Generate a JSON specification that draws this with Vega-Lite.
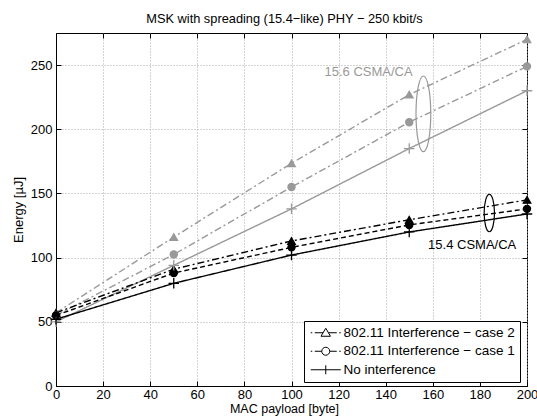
{
  "$schema": "https://vega.github.io/schema/vega-lite/v6.json",
  "width": 471,
  "height": 353,
  "autosize": {"type": "none"},
  "padding": {"left": 56, "top": 33, "right": 10, "bottom": 31},
  "background": "white",
  "title": {"text": "MSK with spreading (15.4−like) PHY − 250 kbit/s", "fontSize": 12.8, "fontWeight": "normal", "font": "Liberation Sans", "color": "black", "offset": 7, "dx": -7},
  "config": {
    "font": "Liberation Sans",
    "view": {"stroke": "black", "strokeWidth": 1},
    "axis": {"domainColor": "black", "tickColor": "black", "labelColor": "black", "labelFontSize": 13, "titleFontSize": 13, "titleFontWeight": "normal", "titleColor": "black", "gridColor": "#a8a8a8", "gridDash": [1, 2], "gridOpacity": 1, "labelFont": "Liberation Sans", "titleFont": "Liberation Sans"},
    "legend": {"labelFont": "Liberation Sans"}
  },
  "datasets": {
    "curves": [
      {"phy": "15.6", "case": "802.11 Interference − case 2", "curve": "15.6 case 2", "payload": 0, "energy": 57},
      {"phy": "15.6", "case": "802.11 Interference − case 2", "curve": "15.6 case 2", "payload": 50, "energy": 116},
      {"phy": "15.6", "case": "802.11 Interference − case 2", "curve": "15.6 case 2", "payload": 100, "energy": 173.5},
      {"phy": "15.6", "case": "802.11 Interference − case 2", "curve": "15.6 case 2", "payload": 150, "energy": 227},
      {"phy": "15.6", "case": "802.11 Interference − case 2", "curve": "15.6 case 2", "payload": 200, "energy": 270},
      {"phy": "15.6", "case": "802.11 Interference − case 1", "curve": "15.6 case 1", "payload": 0, "energy": 55},
      {"phy": "15.6", "case": "802.11 Interference − case 1", "curve": "15.6 case 1", "payload": 50, "energy": 102.5},
      {"phy": "15.6", "case": "802.11 Interference − case 1", "curve": "15.6 case 1", "payload": 100, "energy": 155},
      {"phy": "15.6", "case": "802.11 Interference − case 1", "curve": "15.6 case 1", "payload": 150, "energy": 205.5},
      {"phy": "15.6", "case": "802.11 Interference − case 1", "curve": "15.6 case 1", "payload": 200, "energy": 249},
      {"phy": "15.6", "case": "No interference", "curve": "15.6 none", "payload": 0, "energy": 50},
      {"phy": "15.6", "case": "No interference", "curve": "15.6 none", "payload": 50, "energy": 94},
      {"phy": "15.6", "case": "No interference", "curve": "15.6 none", "payload": 100, "energy": 138},
      {"phy": "15.6", "case": "No interference", "curve": "15.6 none", "payload": 150, "energy": 185},
      {"phy": "15.6", "case": "No interference", "curve": "15.6 none", "payload": 200, "energy": 230},
      {"phy": "15.4", "case": "802.11 Interference − case 2", "curve": "15.4 case 2", "payload": 0, "energy": 57},
      {"phy": "15.4", "case": "802.11 Interference − case 2", "curve": "15.4 case 2", "payload": 50, "energy": 91},
      {"phy": "15.4", "case": "802.11 Interference − case 2", "curve": "15.4 case 2", "payload": 100, "energy": 113},
      {"phy": "15.4", "case": "802.11 Interference − case 2", "curve": "15.4 case 2", "payload": 150, "energy": 129.5},
      {"phy": "15.4", "case": "802.11 Interference − case 2", "curve": "15.4 case 2", "payload": 200, "energy": 145},
      {"phy": "15.4", "case": "802.11 Interference − case 1", "curve": "15.4 case 1", "payload": 0, "energy": 55},
      {"phy": "15.4", "case": "802.11 Interference − case 1", "curve": "15.4 case 1", "payload": 50, "energy": 88},
      {"phy": "15.4", "case": "802.11 Interference − case 1", "curve": "15.4 case 1", "payload": 100, "energy": 108},
      {"phy": "15.4", "case": "802.11 Interference − case 1", "curve": "15.4 case 1", "payload": 150, "energy": 125.5},
      {"phy": "15.4", "case": "802.11 Interference − case 1", "curve": "15.4 case 1", "payload": 200, "energy": 138},
      {"phy": "15.4", "case": "No interference", "curve": "15.4 none", "payload": 0, "energy": 52},
      {"phy": "15.4", "case": "No interference", "curve": "15.4 none", "payload": 50, "energy": 80},
      {"phy": "15.4", "case": "No interference", "curve": "15.4 none", "payload": 100, "energy": 102},
      {"phy": "15.4", "case": "No interference", "curve": "15.4 none", "payload": 150, "energy": 120},
      {"phy": "15.4", "case": "No interference", "curve": "15.4 none", "payload": 200, "energy": 134}
    ],
    "labels": [
      {"phy": "15.6", "label": "15.6 CSMA/CA", "payload": 114, "energy": 245},
      {"phy": "15.4", "label": "15.4 CSMA/CA", "payload": 158, "energy": 109.5}
    ],
    "ellipses": [
      {"phy": "15.6", "payload": 156, "energy": 212},
      {"phy": "15.4", "payload": 184, "energy": 134.7}
    ]
  },
  "layer": [
    {
      "data": {"name": "curves"},
      "mark": {"type": "line", "strokeWidth": 1.4},
      "encoding": {
        "x": {"field": "payload", "type": "quantitative", "scale": {"domain": [0, 200], "nice": false}, "axis": {"orient": "bottom", "title": "MAC payload [byte]", "titleX": 228, "titleFontSize": 12.5, "values": [0, 20, 40, 60, 80, 100, 120, 140, 160, 180, 200], "grid": true, "tickSize": -5, "labelPadding": 7, "titlePadding": 1, "labelFlush": false}},
        "y": {"field": "energy", "type": "quantitative", "scale": {"domain": [0, 275], "nice": false}, "axis": {"orient": "left", "title": "Energy [µJ]", "values": [0, 50, 100, 150, 200, 250], "grid": true, "tickSize": -5, "labelPadding": 9, "titlePadding": 5, "labelFlush": false}},
        "color": {"field": "phy", "type": "nominal", "scale": {"domain": ["15.6", "15.4"], "range": ["#999999", "#000000"]}, "legend": null},
        "strokeDash": {"field": "curve", "type": "nominal", "scale": {"domain": ["15.6 case 2", "15.6 case 1", "15.6 none", "15.4 case 2", "15.4 case 1", "15.4 none"], "range": [[7, 3, 2, 3], [7, 3, 2, 3], [1, 0], [7, 3, 2, 3], [5, 3], [1, 0]]}, "legend": null},
        "order": {"field": "payload", "type": "quantitative"}
      }
    },
    {
      "data": {"name": "curves"},
      "transform": [{"filter": "datum.curve === '15.6 case 2' || datum.curve === '15.4 case 2'"}],
      "mark": {"type": "point", "shape": "triangle-up", "size": 60, "filled": true, "strokeWidth": 1.2, "opacity": 1},
      "encoding": {
        "x": {"field": "payload", "type": "quantitative", "axis": {"orient": "top", "labels": false, "title": null, "grid": false, "domain": false, "tickSize": -5, "values": [0, 20, 40, 60, 80, 100, 120, 140, 160, 180, 200]}},
        "y": {"field": "energy", "type": "quantitative", "axis": {"orient": "right", "labels": false, "title": null, "grid": false, "domain": false, "tickSize": -5, "values": [0, 50, 100, 150, 200, 250]}},
        "fill": {"field": "phy", "type": "nominal", "scale": {"domain": ["15.6", "15.4"], "range": ["#999999", "#000000"]}, "legend": null},
        "stroke": {"field": "phy", "type": "nominal", "scale": {"domain": ["15.6", "15.4"], "range": ["#999999", "#000000"]}, "legend": null}
      }
    },
    {
      "data": {"name": "curves"},
      "transform": [{"filter": "datum.curve === '15.6 case 1' || datum.curve === '15.4 case 1'"}],
      "mark": {"type": "point", "shape": "circle", "size": 52, "filled": true, "strokeWidth": 1.2, "opacity": 1},
      "encoding": {
        "x": {"field": "payload", "type": "quantitative", "axis": null},
        "y": {"field": "energy", "type": "quantitative", "axis": null},
        "fill": {"field": "phy", "type": "nominal", "legend": null},
        "stroke": {"field": "phy", "type": "nominal", "legend": null}
      }
    },
    {
      "data": {"name": "curves"},
      "transform": [{"filter": "datum.curve === '15.6 none' || datum.curve === '15.4 none'"}],
      "mark": {"type": "point", "shape": "M-1,0H1M0,-1V1", "size": 110, "filled": false, "strokeWidth": 1.3, "opacity": 1},
      "encoding": {
        "x": {"field": "payload", "type": "quantitative", "axis": null},
        "y": {"field": "energy", "type": "quantitative", "axis": null},
        "stroke": {"field": "phy", "type": "nominal", "legend": null}
      }
    },
    {
      "data": {"name": "curves"},
      "transform": [{"filter": "false"}],
      "mark": {"type": "point", "filled": false, "color": "black", "strokeWidth": 1, "opacity": 1},
      "encoding": {
        "x": {"field": "payload", "type": "quantitative", "axis": null},
        "y": {"field": "energy", "type": "quantitative", "axis": null},
        "shape": {
          "field": "case", "type": "nominal",
          "scale": {"domain": ["802.11 Interference − case 2", "802.11 Interference − case 1", "No interference"], "range": [
            "M-1,0H-0.7M-0.2,0H1.47M2,-0.9L2.95,0.7L1.05,0.7ZM2.53,0H4.2M4.7,0H5",
            "M-1,0H-0.7M-0.2,0H1.2M2.8,0A0.8,0.8 0 1,1 1.2,0A0.8,0.8 0 1,1 2.8,0ZM2.8,0H4.2M4.7,0H5",
            "M-1,0H5M2,-0.9V0.9"
          ]},
          "legend": {
            "title": null, "orient": "none", "legendX": 248, "legendY": 288, "symbolSize": 100, "labelOffset": 21, "labelFontSize": 13.5, "labelLimit": 400, "labelColor": "black", "rowPadding": 3.5, "padding": 5, "strokeColor": "black", "fillColor": "white", "cornerRadius": 0,
            "symbolStrokeColor": "black", "symbolFillColor": "transparent", "symbolStrokeWidth": 1, "symbolOpacity": 1
          }
        }
      }
    },
    {
      "data": {"name": "labels"},
      "mark": {"type": "text", "align": "left", "baseline": "middle", "fontSize": 13, "font": "Liberation Sans"},
      "encoding": {
        "x": {"field": "payload", "type": "quantitative", "axis": null},
        "y": {"field": "energy", "type": "quantitative", "axis": null},
        "text": {"field": "label"},
        "color": {"field": "phy", "type": "nominal", "legend": null}
      }
    },
    {
      "data": {"name": "ellipses"},
      "transform": [{"filter": "datum.phy === '15.6'"}],
      "mark": {"type": "point", "filled": false, "shape": "M0,-1A0.195,1 0 1,1 0,1A0.195,1 0 1,1 0,-1Z", "size": 5730, "strokeWidth": 1.2, "opacity": 1},
      "encoding": {
        "x": {"field": "payload", "type": "quantitative", "axis": null},
        "y": {"field": "energy", "type": "quantitative", "axis": null},
        "color": {"field": "phy", "type": "nominal", "legend": null}
      }
    },
    {
      "data": {"name": "ellipses"},
      "transform": [{"filter": "datum.phy === '15.4'"}],
      "mark": {"type": "point", "filled": false, "shape": "M0,-1A0.276,1 0 1,1 0,1A0.276,1 0 1,1 0,-1Z", "size": 1391, "strokeWidth": 1.2, "opacity": 1},
      "encoding": {
        "x": {"field": "payload", "type": "quantitative", "axis": null},
        "y": {"field": "energy", "type": "quantitative", "axis": null},
        "color": {"field": "phy", "type": "nominal", "legend": null}
      }
    }
  ],
  "resolve": {"axis": {"x": "independent", "y": "independent"}}
}
